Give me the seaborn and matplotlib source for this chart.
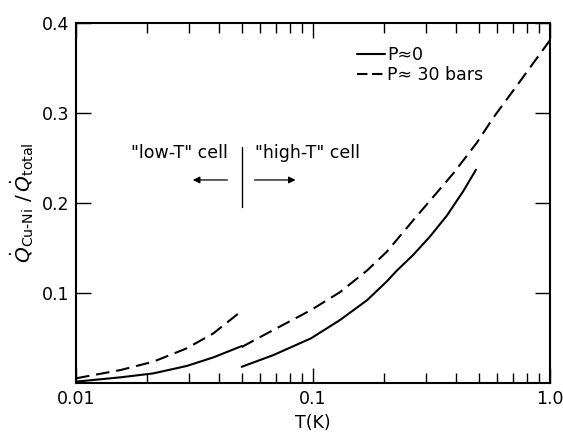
import numpy as np
import pandas as pd
import matplotlib
matplotlib.use("Agg")
import matplotlib.pyplot as plt
import seaborn as sns
from matplotlib.ticker import FixedLocator, LogLocator, NullFormatter, FixedFormatter
from matplotlib.lines import Line2D

# ---- data ----
low_T_solid_T = [0.01, 0.0154, 0.0212, 0.0293, 0.0380, 0.050]
low_T_solid_Q = [0.0015, 0.0063, 0.0107, 0.0189, 0.0285, 0.041]
low_T_dash_T = [0.01, 0.0154, 0.0212, 0.0293, 0.0380, 0.0505]
low_T_dash_Q = [0.0052, 0.0144, 0.0237, 0.0385, 0.0552, 0.081]
high_T_solid_T = [0.050, 0.068, 0.098, 0.130, 0.169, 0.205, 0.225, 0.265, 0.312, 0.367, 0.430, 0.487]
high_T_solid_Q = [0.018, 0.031, 0.0496, 0.070, 0.092, 0.113, 0.1245, 0.1425, 0.163, 0.186, 0.213, 0.237]
high_T_dash_T = [0.050, 0.068, 0.098, 0.130, 0.169, 0.205, 0.265, 0.322, 0.391, 0.491, 0.577, 0.746, 1.0]
high_T_dash_Q = [0.040, 0.0589, 0.081, 0.101, 0.125, 0.146, 0.181, 0.207, 0.233, 0.267, 0.295, 0.335, 0.381]

x_ticks = [0.01, 0.1, 1.0]
x_tick_labels = ["0.01", "0.1", "1.0"]
y_ticks = [0.1, 0.2, 0.3, 0.4]
y_tick_labels = ["0.1", "0.2", "0.3", "0.4"]
legend_labels = ["P≈0", "P≈ 30 bars"]

sns.set_style("ticks")
plt.rcParams["font.family"] = ["DejaVu Sans"]
plt.rcParams["mathtext.fontset"] = "dejavusans"
plt.rcParams["text.color"] = "black"
plt.rcParams["axes.labelcolor"] = "black"

segments = [
    ("low solid", low_T_solid_T, low_T_solid_Q, "solid"),
    ("low dash", low_T_dash_T, low_T_dash_Q, "dash"),
    ("high solid", high_T_solid_T, high_T_solid_Q, "solid"),
    ("high dash", high_T_dash_T, high_T_dash_Q, "dash"),
]

fig = plt.figure(figsize=(5.63, 4.34), dpi=100)
ax = fig.add_axes([0.135, 0.1175, 0.842, 0.8295])

for name, T, Q, kind in segments:
    df = pd.DataFrame({"T": T, "Q": Q})
    ls = "-" if kind == "solid" else (0, (6.5, 3.3))
    sns.lineplot(data=df, x="T", y="Q", ax=ax, color="black", lw=1.5,
                 linestyle=ls, estimator=None, sort=False)

ax.set_xscale("log")
ax.set_xlim(0.01, 1.0)
ax.set_ylim(0.0, 0.4)

ax.xaxis.set_major_locator(FixedLocator(x_ticks))
ax.xaxis.set_major_formatter(FixedFormatter(x_tick_labels))
ax.xaxis.set_minor_locator(LogLocator(base=10, subs=np.arange(2, 10)))
ax.xaxis.set_minor_formatter(NullFormatter())
ax.yaxis.set_major_locator(FixedLocator(y_ticks))
ax.yaxis.set_major_formatter(FixedFormatter(y_tick_labels))

ax.tick_params(which="both", direction="in", top=True, right=True,
               labelsize=12.5, width=1.0, colors="black")
ax.tick_params(which="major", length=11, pad=5)
ax.tick_params(which="minor", length=7)
for sp in ax.spines.values():
    sp.set_linewidth(1.5)
    sp.set_color("black")

ax.set_xlabel("T(K)", fontsize=12.5, labelpad=4)
ax.set_ylabel(r"$\dot{Q}_{\mathrm{Cu\text{-}Ni}}\ /\,\dot{Q}_{\mathrm{total}}$",
              fontsize=14.5, labelpad=4)

# annotations
ax.text(0.0438, 0.2556, '"low-T" cell', ha="right", va="center", fontsize=12.5)
ax.text(0.057, 0.2556, '"high-T" cell', ha="left", va="center", fontsize=12.5)
ax.plot([0.05, 0.05], [0.196, 0.262], color="black", lw=1.0)
ax.annotate("", xy=(0.0303, 0.2256), xytext=(0.0447, 0.2256),
            arrowprops=dict(arrowstyle="-|>", color="black", lw=0.9,
                            mutation_scale=10))
ax.annotate("", xy=(0.0867, 0.2256), xytext=(0.0551, 0.2256),
            arrowprops=dict(arrowstyle="-|>", color="black", lw=0.9,
                            mutation_scale=10))

handles = [Line2D([], [], color="black", lw=1.5, linestyle="-"),
           Line2D([], [], color="black", lw=1.5, linestyle=(0, (5, 2.2)))]
ax.legend(handles, legend_labels, loc="upper left", bbox_to_anchor=(0.56, 0.98),
          frameon=False, fontsize=12.5, handlelength=1.6, handletextpad=0.15,
          labelspacing=0.15)

fig.savefig("out.png", dpi=100)
